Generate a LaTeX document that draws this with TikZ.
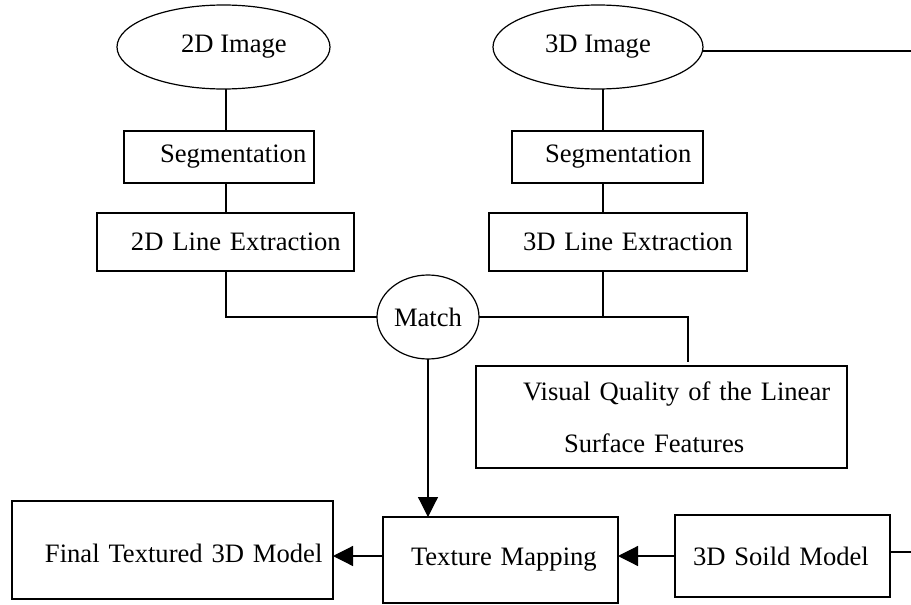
\documentclass[tikz,border=0pt]{standalone}
\usepackage{fontspec}
\setmainfont{Liberation Serif}
\usetikzlibrary{shapes.geometric,arrows.meta}
\tikzset{
  base/.style={draw=black, line width=0.6pt, inner sep=0pt, outer sep=0pt,
    font=\fontsize{13.3}{26}\selectfont},
  tbox/.style={base, rectangle, align=left},
  oval/.style={base, ellipse, align=center},
  link/.style={draw=black, line width=0.6pt},
  arr/.style={link, -{Triangle[length=10pt,width=10pt]}}
}
\begin{document}
\begin{tikzpicture}[x=0.5pt,y=-0.5pt]
\useasboundingbox (0,0) rectangle (911,605);
% column coordinates
\coordinate (c2) at (226,0);
\coordinate (c3) at (603,0);
\coordinate (c4) at (688,0);
\coordinate (r1) at (0,556);
\coordinate (eT) at (911,51);
\coordinate (eR) at (911,552);
% ellipses
\node[oval, minimum width=106.5pt, minimum height=42pt] (img2) at (223.5,47) {\hspace*{10.5pt}2D Image};
\node[oval, minimum width=105pt, minimum height=42pt] (img3) at (598,47) {3D Image};
\node[oval, minimum width=51pt, minimum height=42pt] (match) at (428,317) {Match};
% boxes
\node[tbox, text width=95pt, minimum height=26pt] (seg2) at (219,157) {\hspace*{18pt}Segmentation};
\node[tbox, text width=128.5pt, minimum height=29pt] (le2) at (225.5,242) {\hspace*{17pt}2D Line Extraction};
\node[tbox, text width=95.5pt, minimum height=26pt] (seg3) at (607.5,157) {\hspace*{16.5pt}Segmentation};
\node[tbox, text width=129pt, minimum height=29pt] (le3) at (618,242) {\hspace*{17pt}3D Line Extraction};
\node[tbox, text width=185.5pt, minimum height=51pt] (vq) at (661.5,417) {\hspace*{23.5pt}Visual Quality of the Linear\\\hspace*{44pt}Surface Features};
\node[tbox, text width=160.5pt, minimum height=49pt, text height=13pt] (final) at (172.5,550) {\hspace*{16.5pt}Final Textured 3D Model};
\node[tbox, text width=117.5pt, minimum height=43pt] (tex) at (500.5,560) {\hspace*{14pt}Texture Mapping};
\node[tbox, text width=107.5pt, minimum height=41pt] (solid) at (782.5,556) {\hspace*{9pt}3D Soild Model};
% connectors
\draw[link] (img2.south -| c2) -- (seg2.north -| c2);
\draw[link] (seg2.south -| c2) -- (le2.north -| c2);
\draw[link] (le2.south -| c2) |- (match.west);
\draw[link] (img3.south -| c3) -- (seg3.north -| c3);
\draw[link] (seg3.south -| c3) -- (le3.north -| c3);
\draw[link] (le3.south -| c3) -- (c3 |- match.east);
\draw[link, shorten >=2pt] (match.east) -| (vq.north -| c4);
\draw[link] (img3.east |- eT) -- (eT);
\draw[arr] (match.south) -- (match.south |- tex.north);
\draw[arr] (tex.west |- r1) -- (final.east |- r1);
\draw[arr] (solid.west) -- (tex.east |- solid.west);
\draw[link] (solid.east |- eR) -- (eR);
\end{tikzpicture}
\end{document}
